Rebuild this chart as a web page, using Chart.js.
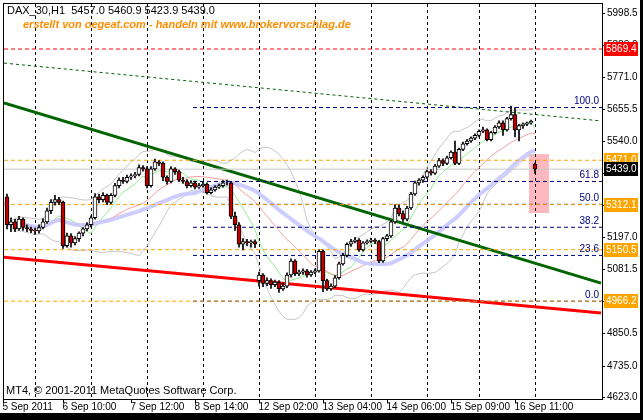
<!DOCTYPE html>
<html><head><meta charset="utf-8">
<script src="https://cdn.jsdelivr.net/npm/chart.js@4/dist/chart.umd.min.js"></script>
<style>html,body{margin:0;padding:0;background:#000;overflow:hidden}#c{display:block}</style>
</head><body><canvas id="c" width="643" height="420"></canvas>
<script>
// OHLC candles (H1), one per bar index
const candles = [
[5340,5350,5225,5240],[5240,5265,5215,5250],[5250,5260,5215,5225],[5225,5270,5220,5260],[5260,5265,5220,5230],
[5230,5240,5215,5225],[5225,5232,5212,5220],[5220,5228,5205,5218],[5218,5240,5210,5230],[5230,5262,5225,5250],
[5250,5300,5245,5290],[5290,5330,5280,5320],[5320,5345,5310,5330],[5330,5338,5312,5320],[5320,5325,5155,5165],
[5165,5210,5160,5200],[5200,5208,5160,5175],[5175,5198,5168,5190],[5190,5215,5180,5210],[5210,5230,5200,5225],
[5225,5248,5218,5240],[5240,5272,5232,5265],[5265,5352,5260,5340],[5340,5350,5318,5330],[5330,5355,5322,5345],
[5345,5350,5312,5320],[5320,5352,5315,5345],[5345,5388,5340,5380],[5380,5408,5372,5400],[5400,5410,5388,5395],
[5395,5418,5390,5410],[5410,5422,5402,5415],[5415,5428,5408,5420],[5420,5455,5415,5445],[5445,5452,5432,5440],
[5440,5448,5372,5380],[5380,5448,5375,5440],[5440,5475,5435,5465],[5465,5470,5452,5460],[5460,5465,5398,5410],
[5410,5415,5385,5395],[5395,5448,5390,5440],[5440,5445,5420,5430],[5430,5436,5394,5400],[5400,5410,5388,5395],
[5395,5402,5372,5380],[5380,5398,5375,5390],[5390,5396,5368,5375],[5375,5388,5370,5380],[5380,5392,5375,5385],
[5385,5390,5350,5355],[5355,5372,5350,5365],[5365,5380,5360,5375],[5375,5386,5370,5380],[5380,5398,5375,5390],
[5390,5400,5382,5390],[5390,5395,5262,5270],[5270,5285,5220,5240],[5240,5248,5160,5170],[5170,5190,5150,5180],
[5180,5188,5165,5175],[5175,5185,5160,5180],[5180,5186,5158,5170],[5040,5070,5020,5060],[5060,5065,5018,5030],
[5030,5050,5022,5040],[5040,5046,5012,5025],[5025,5042,5018,5035],[5035,5040,4998,5010],[5010,5030,5005,5020],
[5020,5068,5015,5060],[5060,5118,5052,5110],[5110,5115,5058,5065],[5065,5078,5058,5070],[5070,5082,5062,5075],
[5075,5080,5052,5060],[5060,5076,5055,5070],[5070,5082,5065,5075],[5075,5150,5070,5145],[5145,5150,5000,5040],
[5040,5045,5005,5010],[5010,5028,5005,5020],[5020,5058,5015,5050],[5050,5106,5045,5100],[5100,5138,5095,5130],
[5130,5175,5125,5170],[5170,5188,5162,5180],[5180,5195,5175,5185],[5185,5190,5144,5150],[5150,5180,5145,5175],
[5175,5186,5170,5180],[5180,5192,5175,5185],[5185,5190,5172,5180],[5180,5184,5104,5110],[5110,5195,5105,5190],
[5190,5206,5182,5200],[5200,5255,5195,5250],[5250,5312,5245,5300],[5300,5310,5272,5280],[5280,5290,5252,5260],
[5260,5306,5254,5300],[5300,5356,5295,5350],[5350,5396,5345,5390],[5390,5405,5382,5400],[5400,5415,5392,5410],
[5410,5436,5405,5430],[5430,5438,5418,5425],[5425,5456,5420,5450],[5450,5478,5445,5470],[5470,5476,5452,5460],
[5460,5486,5455,5480],[5480,5505,5475,5500],[5500,5540,5455,5460],[5460,5515,5455,5510],[5510,5536,5505,5530],
[5530,5546,5525,5540],[5540,5555,5535,5550],[5550,5566,5545,5560],[5560,5580,5555,5575],[5575,5590,5570,5580],
[5580,5584,5540,5545],[5545,5575,5540,5570],[5570,5595,5565,5590],[5590,5612,5585,5605],[5605,5612,5560,5580],
[5580,5625,5575,5620],[5620,5665,5615,5635],[5635,5660,5555,5580],[5580,5600,5540,5595],[5595,5605,5585,5600],
[5600,5608,5595,5605],[5605,5615,5600,5610],[5457,5460.9,5423.9,5439.0]
];
const timeLabels = ["5 Sep 2011","6 Sep 10:00","7 Sep 12:00","8 Sep 14:00","12 Sep 02:00","13 Sep 04:00","14 Sep 06:00","15 Sep 09:00","16 Sep 11:00"];
const timeLabelBars = [-1,14,31,47,63,79,95,111,127];
const gridBars = [7,21,35,49,63,77,91,105,118,132];
const priceTicks = [5998.5,5883.0,5771.0,5655.5,5540.0,5424.5,5312.0,5197.0,5081.5,4966.0,4850.5,4735.0,4623.0];
const priceBoxes = [[5869.4,"#ff0000"],[5471.0,"#ffa500"],[5439.0,"#000000"],[5312.1,"#ffa500"],[5150.5,"#ffa500"],[4966.2,"#ffa500"]];
const orangeLevels = [5471.0,5312.1,5150.5,4966.2];
const fibLevels = [[100.0,5660],[61.8,5395],[50.0,5313],[38.2,5231],[23.6,5130],[0.0,4966]];
const greenTrend = [[-0.75,5676],[148.5,5031]];
const redTrend = [[-0.75,5124],[148.5,4924]];
const greenDashTrend = [[-0.75,5819],[148.5,5612]];
const boxZone = [131,136,5282,5493];

const closes = candles.map(c=>c[3]);
function sma(p){return closes.map((v,i)=>{const s=closes.slice(Math.max(0,i-p+1),i+1);return {x:i,y:s.reduce((a,b)=>a+b,0)/s.length};});}
function band(p,k){return closes.map((v,i)=>{const s=closes.slice(Math.max(0,i-p+1),i+1);const m=s.reduce((a,b)=>a+b,0)/s.length;const sd=Math.sqrt(s.reduce((a,b)=>a+(b-m)*(b-m),0)/s.length);return {x:i,y:m+k*sd};});}
const XMIN=-0.75, XMAX=148.75;
const lineDs=(pts,color,w,dash)=>({type:'line',data:pts.map(p=>({x:p[0],y:p[1]})),borderColor:color,borderWidth:w,borderDash:dash||[],pointRadius:0,fill:false,order:5});
const hline=(y,color,x0,dash)=>lineDs([[x0,y],[XMAX,y]],color,1,dash);

const datasets=[];
datasets.push({type:'line',data:sma(34),borderColor:'rgba(200,200,255,0.9)',borderWidth:4,pointRadius:0,order:9});
datasets.push({type:'line',data:band(20,2),borderColor:'#c8c8c8',borderWidth:1,pointRadius:0,order:9});
datasets.push({type:'line',data:band(20,-2),borderColor:'#c8c8c8',borderWidth:1,pointRadius:0,order:9});
datasets.push({type:'line',data:sma(21),borderColor:'#f4a0a0',borderWidth:1,pointRadius:0,order:9});
datasets.push({type:'line',data:sma(8),borderColor:'#90f090',borderWidth:1,pointRadius:0,order:9});
orangeLevels.forEach(v=>datasets.push(hline(v,'#ffa500',XMIN,[4,3])));
datasets.push(hline(5869.4,'#ff0000',XMIN,[4,3]));
datasets.push(hline(5439.0,'#c8c8c8',XMIN));
fibLevels.forEach(f=>datasets.push(hline(f[1],'#000080',46.5,[4,3])));
datasets.push(lineDs(greenDashTrend,'#006400',1,[3,3]));
datasets.push(lineDs(greenTrend,'#006400',3));
datasets.push(lineDs(redTrend,'#ff0000',3));
datasets.push({type:'bar',data:candles.map((c,i)=>({x:i,y:[c[2],c[1]]})),backgroundColor:'#000',barThickness:1,grouped:false,order:2});
datasets.push({type:'bar',data:candles.map((c,i)=>({x:i,y:[c[0],c[3]]})),backgroundColor:candles.map(c=>c[3]<c[0]?'#c00000':'#ffffff'),borderColor:'#000',borderWidth:1,borderSkipped:false,barThickness:4,grouped:false,order:1});

const FONT='10px "Liberation Sans"';
const deco={id:'deco',
beforeDraw(ch){const g=ch.ctx;g.save();g.fillStyle='#000';g.fillRect(0,0,643,420);g.fillStyle='#fff';g.fillRect(0,0,640,413);
 const xs=ch.scales.x,ys=ch.scales.y,a=ch.chartArea;
 g.fillStyle='rgba(255,160,170,0.75)';const bx0=xs.getPixelForValue(boxZone[0])-2,bx1=xs.getPixelForValue(boxZone[1])-2;
 g.fillRect(bx0,ys.getPixelForValue(boxZone[3]),bx1-bx0,ys.getPixelForValue(boxZone[2])-ys.getPixelForValue(boxZone[3]));
 g.strokeStyle='#000';g.lineWidth=1;g.setLineDash([3,3]);
 gridBars.forEach(b=>{const x=Math.round(xs.getPixelForValue(b))+0.5;g.beginPath();g.moveTo(x,a.top);g.lineTo(x,a.bottom);g.stroke();});
 g.restore();},
afterDraw(ch){const g=ch.ctx,xs=ch.scales.x,ys=ch.scales.y,a=ch.chartArea;g.save();
 g.strokeStyle='#000';g.lineWidth=1;g.setLineDash([]);g.strokeRect(a.left-0.5,a.top-0.5,a.right-a.left+1,a.bottom-a.top+1);
 g.font=FONT;g.textBaseline='middle';g.textAlign='left';
 priceTicks.forEach(v=>{const y=Math.round(ys.getPixelForValue(v))+0.5;g.beginPath();g.moveTo(a.right,y);g.lineTo(a.right+3,y);g.stroke();g.fillStyle='#000';g.fillText(v.toFixed(1),a.right+5,y);});
 priceBoxes.forEach(b=>{const y=Math.round(ys.getPixelForValue(b[0]));g.fillStyle=b[1];g.fillRect(a.right+2,y-7,34,14);g.fillStyle='#fff';g.fillText(b[0].toFixed(1),a.right+4,y+0.5);});
 g.textBaseline='top';
 timeLabelBars.forEach((b,i)=>{const x=Math.round(xs.getPixelForValue(b))+0.5;g.beginPath();g.moveTo(x,a.bottom);g.lineTo(x,a.bottom+4);g.stroke();g.fillStyle='#000';g.fillText(timeLabels[i],Math.max(1,x-1),a.bottom+3);});
 g.fillStyle='#000080';g.textAlign='right';g.textBaseline='bottom';
 fibLevels.forEach(f=>g.fillText(f[0].toFixed(1),a.right-3,ys.getPixelForValue(f[1])-1));
 g.textAlign='left';g.fillStyle='#000';g.textBaseline='middle';
 g.font='11px "Liberation Sans"';
 g.fillText('DAX_30,H1  5457.0 5460.9 5423.9 5439.0',7,11);
 g.fillText('MT4, \u00a9 2001-2011 MetaQuotes Software Corp.',6,391);
 g.fillStyle='#ff8c00';g.font='italic bold 11px "Liberation Sans"';
 g.fillText('erstellt von oegeat.com - handeln mit www.brokervorschlag.de',23,25);
 g.restore();}};

new Chart(document.getElementById('c'),{type:'bar',data:{datasets},
options:{responsive:false,animation:false,events:[],devicePixelRatio:1,
 layout:{padding:{left:4,top:4,right:41,bottom:21}},
 plugins:{legend:{display:false},tooltip:{enabled:false}},
 scales:{x:{type:'linear',min:XMIN,max:XMAX,offset:false,display:false},y:{min:4615.8,max:6030.7,display:false}}},
plugins:[deco]});
</script></body></html>
